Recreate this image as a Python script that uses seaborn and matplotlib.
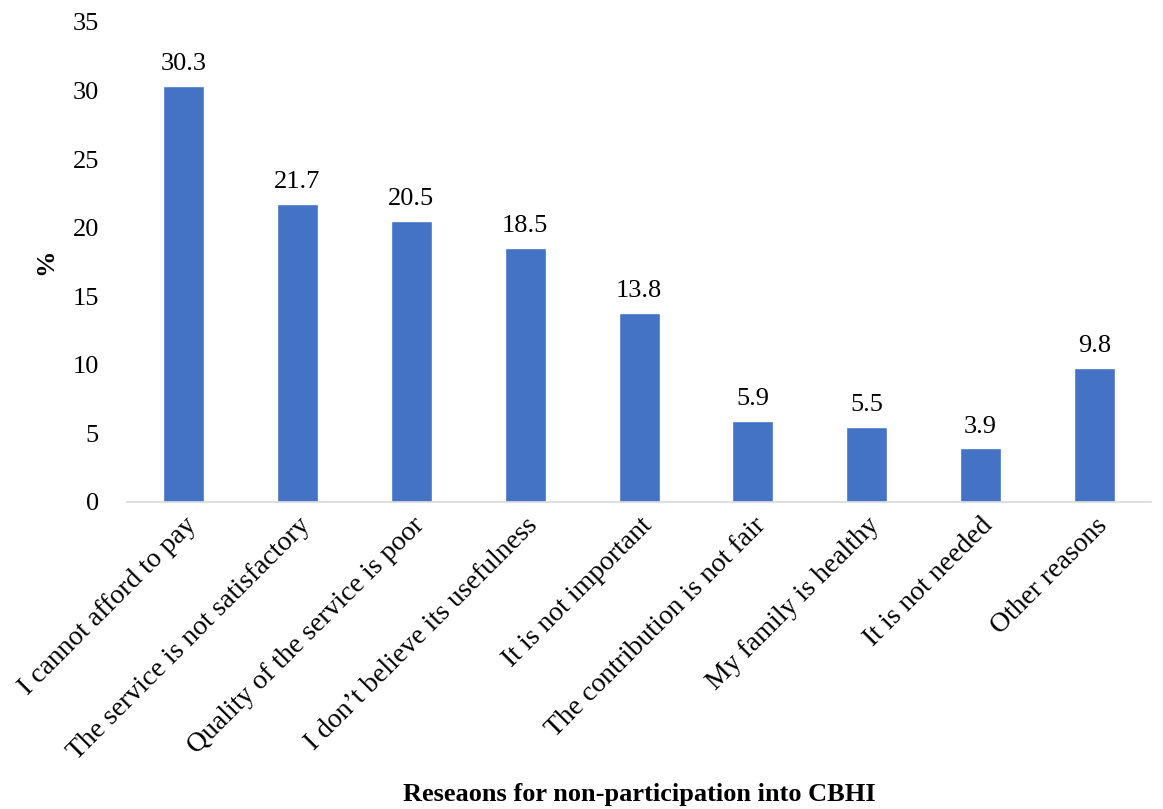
import matplotlib
matplotlib.use('Agg')
import matplotlib.pyplot as plt
import pandas as pd
import seaborn as sns

reasons = [
    'I cannot afford to pay',
    'The service is not satisfactory',
    'Quality of the service is poor',
    'I don\u2019t believe its usefulness',
    'It is not important',
    'The contribution is not fair',
    'My family is healthy',
    'It is not needed',
    'Other reasons',
]
percent = [30.3, 21.7, 20.5, 18.5, 13.8, 5.9, 5.5, 3.9, 9.8]

df = pd.DataFrame({'reason': reasons, 'pct': percent})

sns.set_style('white')
plt.rcParams['font.family'] = ['Liberation Serif', 'DejaVu Serif']
plt.rcParams['text.color'] = 'black'
plt.rcParams['xtick.color'] = 'black'
plt.rcParams['ytick.color'] = 'black'
plt.rcParams['axes.labelcolor'] = 'black'

fig = plt.figure(figsize=(11.63, 8.09), dpi=100)
ax = fig.add_axes([0.109, 0.3795, 0.881, 0.5935])

sns.barplot(data=df, x='reason', y='pct', color='#4472C4', width=0.36,
            saturation=1, ax=ax)

for i, v in enumerate(percent):
    ax.text(i, v + 0.8, f'{v:.1f}', ha='center', va='bottom', fontsize=19)

ax.set_ylim(0, 35)
ax.set_yticks(range(0, 36, 5))
ax.set_xlim(-0.5, len(reasons) - 0.5)
ax.tick_params(axis='y', labelsize=19, length=0, pad=20)
ax.tick_params(axis='x', labelsize=20, length=0, pad=8)
plt.setp(ax.get_xticklabels(), rotation=45, ha='right', rotation_mode='anchor')

sns.despine(ax=ax, left=True)
ax.spines['bottom'].set_color('#d9d9d9')
ax.spines['bottom'].set_linewidth(1.2)

ax.set_ylabel('%', fontsize=19, fontweight='bold')
ax.yaxis.set_label_coords(-0.068, 0.5)
ax.set_xlabel('Reseaons for non-participation into CBHI', fontsize=19,
              fontweight='bold')
ax.xaxis.set_label_coords(0.5, -0.585)

fig.savefig('out.png', dpi=100)
